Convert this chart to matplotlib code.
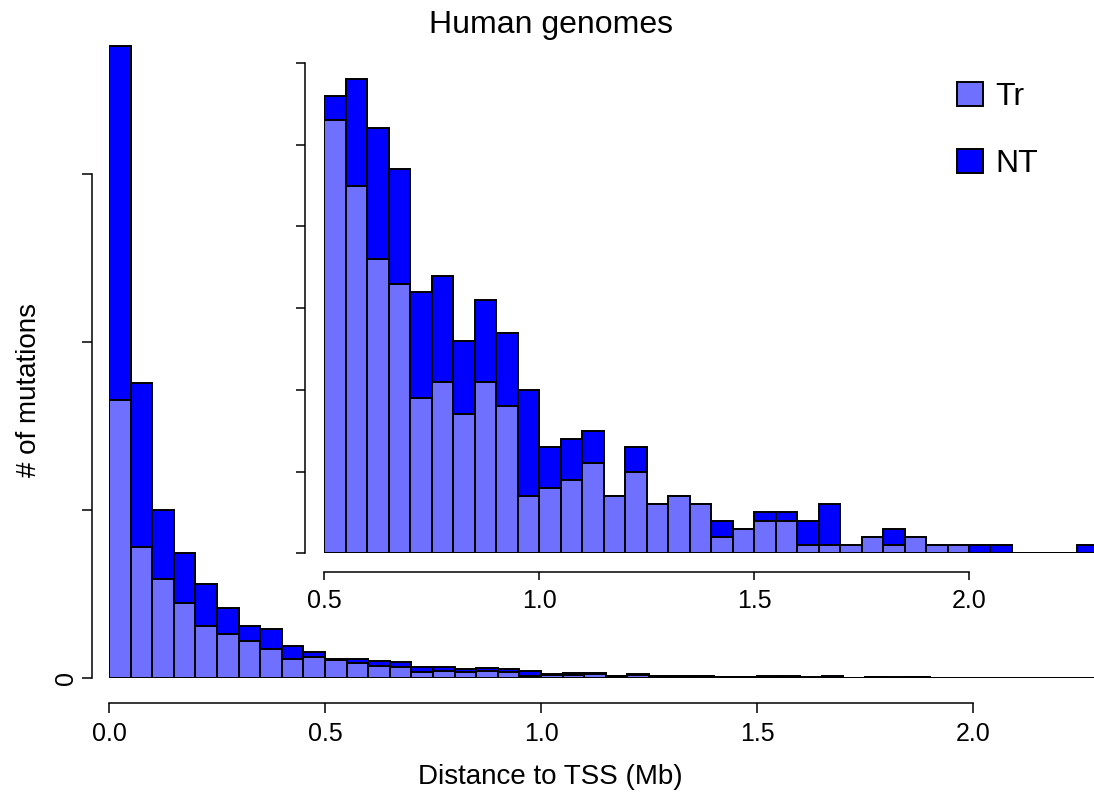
import matplotlib
matplotlib.use("Agg")
import matplotlib.pyplot as plt
import numpy as np

plt.rcParams['font.family'] = ['Liberation Sans', 'DejaVu Sans']

# histogram bins of 0.05 Mb, left edges
bin_width = 0.05
bin_left = np.round(np.arange(0, 2.30, bin_width), 2)

# counts per bin
tr_counts = [827, 390, 295, 223, 155, 131, 110, 86, 57, 62,
	53, 45, 36, 33, 19, 21, 17, 21, 18, 7,
	8, 9, 11, 7, 10, 6, 7, 6, 2, 3,
	4, 4, 1, 1, 1, 2, 1, 2, 1, 1,
	0, 0, 0, 0, 0, 0]
all_counts = [1881, 878, 500, 372, 280, 208, 155, 146, 95, 77,
	56, 58, 52, 47, 32, 34, 26, 31, 27, 20,
	13, 14, 15, 7, 13, 6, 7, 6, 4, 3,
	5, 5, 4, 6, 1, 2, 3, 2, 1, 1,
	1, 1, 0, 0, 0, 1]

main_yticks = [0, 500, 1000, 1500]
main_ytick_labels = ['0', '', '', '']
main_xticks = [0.0, 0.5, 1.0, 1.5, 2.0]
inset_xticks = [0.5, 1.0, 1.5, 2.0]
inset_yticks = [0, 10, 20, 30, 40, 50, 60]

tr = np.array(tr_counts)
nt = np.array(all_counts) - tr

TR_COLOR = '#7070ff'
NT_COLOR = '#0000ff'
W, H = 1094, 801
PT = 0.72  # points per pixel at dpi 100

fig = plt.figure(figsize=(W / 100, H / 100), dpi=100)


def px_axes(left, top, right, bottom):
	return fig.add_axes([left / W, 1 - bottom / H, (right - left) / W, (bottom - top) / H])


def draw_bars(ax, mask):
	b1 = ax.bar(bin_left[mask], tr[mask], width=bin_width, align='edge', color=TR_COLOR,
		edgecolor='black', linewidth=1.4, label='Tr')
	b2 = ax.bar(bin_left[mask], nt[mask], bottom=tr[mask], width=bin_width, align='edge',
		color=NT_COLOR, edgecolor='black', linewidth=1.4, label='NT')
	return b1, b2


def style_axes(ax, xout, yout):
	for s in ['top', 'right']:
		ax.spines[s].set_visible(False)
	ax.spines['left'].set_position(('outward', yout * PT))
	ax.spines['bottom'].set_position(('outward', xout * PT))
	for s in ['left', 'bottom']:
		ax.spines[s].set_linewidth(1.1)
	ax.tick_params(width=1.1, length=10 * PT, labelsize=18, pad=6)


# main histogram
ax = px_axes(109, 678 - 1900 * 0.336, 1094, 678)
draw_bars(ax, np.ones(len(bin_left), dtype=bool))
ax.set_xlim(0, 985 / 432)
ax.set_ylim(0, 1900)
style_axes(ax, 25.3, 17)
ax.spines['left'].set_bounds(0, 1500)
ax.spines['bottom'].set_bounds(0, 2.0)
ax.set_xticks(main_xticks)
ax.set_xticklabels([f'{v:.1f}' for v in main_xticks])
ax.set_yticks(main_yticks)
ax.set_yticklabels(main_ytick_labels, rotation=90, va='center')
ax.tick_params(axis='y', pad=3)
ax.patch.set_visible(False)

# inset: zoom on 0.5 Mb and beyond
ax_in = px_axes(324, 553.3 - 6 * 81.7, 1094, 553.3)
bars = draw_bars(ax_in, bin_left >= 0.5 - 1e-9)
ax_in.set_xlim(0.5, 0.5 + 770 / 430)
ax_in.set_ylim(0, 60)
style_axes(ax_in, 19, 19)
ax_in.spines['left'].set_bounds(0, 60)
ax_in.spines['bottom'].set_bounds(0.5, 2.0)
ax_in.set_xticks(inset_xticks)
ax_in.set_xticklabels([f'{v:.1f}' for v in inset_xticks])
ax_in.set_yticks(inset_yticks)
ax_in.set_yticklabels([])
ax_in.tick_params(axis='x', length=8 * PT)
ax_in.tick_params(axis='y', length=9 * PT)

ax_in.legend(handles=list(bars), loc='upper left', bbox_to_anchor=(957 / W, 1 - 82 / H),
	bbox_transform=fig.transFigure, frameon=False, fontsize=23, handlelength=0.8,
	handleheight=0.8, handletextpad=0.4, labelspacing=1.15, borderpad=0, borderaxespad=0)

fig.text(551 / W, 1 - 25 / H, 'Human genomes', ha='center', va='center', fontsize=23)
fig.text(550 / W, 1 - 777 / H, 'Distance to TSS (Mb)', ha='center', va='center', fontsize=20)
fig.text(29 / W, 1 - 390 / H, '# of mutations', ha='center', va='center', rotation=90, fontsize=20)

fig.savefig('out.png', dpi=100)
